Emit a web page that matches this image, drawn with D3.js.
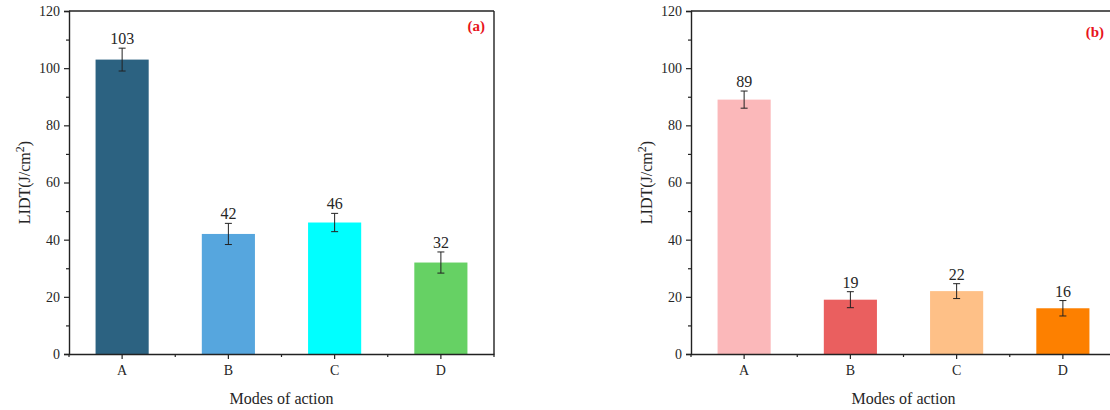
<!DOCTYPE html>
<html>
<head>
<meta charset="utf-8">
<script src="https://cdn.jsdelivr.net/npm/d3@7"></script>
<style>
  html, body { margin: 0; padding: 0; background: #fff; }
  svg { display: block; }
  svg text { font-family: "Liberation Serif", "Times New Roman", serif !important; }
</style>
</head>
<body>
<svg id="chart" width="1110" height="410"></svg>
<script>
// ---- data ----
const categories = ["A", "B", "C", "D"];
const valuesA = [103, 42, 46, 32];
const errorsA = [4, 3.7, 3.2, 3.7];
const valuesB = [89, 19, 22, 16];
const errorsB = [3, 2.8, 2.6, 2.7];
const colorsA = ["#2c6281", "#56a6de", "#00ffff", "#66d164"];
const colorsB = ["#fbb8ba", "#ea5f5f", "#fec087", "#fd8000"];
const yMajorTicks = [0, 20, 40, 60, 80, 100, 120];
const yMinorTicks = [10, 30, 50, 70, 90, 110];
const panelLabels = ["(a)", "(b)"];
const xTitle = "Modes of action";

const svg = d3.select("#chart");
const axisColor = "#222";
const textColor = "#262626";

function drawPanel(left, right, top, bottom, values, errors, colors, label, labelDx, labelY) {
  const g = svg.append("g");
  const x = d3.scaleBand().domain(categories).range([left, right]).padding(0);
  const y = d3.scaleLinear().domain([0, 120]).range([bottom, top]);
  const bw = x.bandwidth() * 0.5;

  // bars
  g.selectAll("rect.bar").data(values).enter().append("rect")
    .attr("class", "bar")
    .attr("x", (d, i) => x(categories[i]) + x.bandwidth() / 2 - bw / 2)
    .attr("y", d => y(d))
    .attr("width", bw)
    .attr("height", d => y(0) - y(d))
    .attr("fill", (d, i) => colors[i]);

  // error bars
  const cap = 3.5;
  values.forEach((v, i) => {
    const cx = x(categories[i]) + x.bandwidth() / 2;
    const e = errors[i];
    g.append("line").attr("x1", cx).attr("x2", cx).attr("y1", y(v + e)).attr("y2", y(v - e))
      .attr("stroke", axisColor).attr("stroke-width", 1);
    [v + e, v - e].forEach(t => {
      g.append("line").attr("x1", cx - cap).attr("x2", cx + cap).attr("y1", y(t)).attr("y2", y(t))
        .attr("stroke", axisColor).attr("stroke-width", 1);
    });
    g.append("text").attr("x", cx).attr("y", y(v + e) - 4)
      .attr("text-anchor", "middle").attr("font-size", 16).attr("fill", textColor)
      .text(v);
  });

  // frame top & right
  g.append("line").attr("x1", left).attr("x2", right).attr("y1", top).attr("y2", top)
    .attr("stroke", axisColor).attr("stroke-width", 1.4);
  g.append("line").attr("x1", right).attr("x2", right).attr("y1", top).attr("y2", bottom)
    .attr("stroke", axisColor).attr("stroke-width", 1.4);

  // y axis major
  const yAx = g.append("g").attr("transform", `translate(${left},0)`)
    .call(d3.axisLeft(y).tickValues(yMajorTicks).tickSize(5).tickPadding(4).tickFormat(d3.format("d")));
  yAx.attr("font-family", null).attr("font-size", null);
  yAx.select(".domain").attr("stroke", axisColor).attr("stroke-width", 1.4);
  yAx.selectAll(".tick line").attr("stroke", axisColor).attr("stroke-width", 1.2);
  yAx.selectAll(".tick text").attr("font-size", 14).attr("fill", textColor);
  // y minor
  const yMin = g.append("g").attr("transform", `translate(${left},0)`)
    .call(d3.axisLeft(y).tickValues(yMinorTicks).tickSize(3).tickFormat(""));
  yMin.select(".domain").remove();
  yMin.selectAll(".tick line").attr("stroke", axisColor).attr("stroke-width", 1.2);

  // x axis
  const xAx = g.append("g").attr("transform", `translate(0,${bottom})`)
    .call(d3.axisBottom(x).tickSize(5).tickPadding(6).tickSizeOuter(0));
  xAx.attr("font-family", null).attr("font-size", null);
  xAx.select(".domain").attr("stroke", axisColor).attr("stroke-width", 1.4);
  xAx.selectAll(".tick line").attr("stroke", axisColor).attr("stroke-width", 1.2);
  xAx.selectAll(".tick text").attr("font-size", 14).attr("fill", textColor);
  // x minor ticks at band edges
  const edges = categories.map(c => x(c)).concat([x(categories[categories.length - 1]) + x.bandwidth()]);
  g.selectAll("line.xminor").data(edges).enter().append("line")
    .attr("class", "xminor")
    .attr("x1", d => d).attr("x2", d => d).attr("y1", bottom).attr("y2", bottom + 3)
    .attr("stroke", axisColor).attr("stroke-width", 1.2);

  // axis titles
  g.append("text").attr("x", (left + right) / 2).attr("y", 404)
    .attr("text-anchor", "middle").attr("font-size", 16).attr("fill", textColor)
    .text(xTitle);
  const yt = g.append("text")
    .attr("transform", `translate(${left - 39},${(top + bottom) / 2}) rotate(-90)`)
    .attr("text-anchor", "middle").attr("font-size", 16).attr("fill", textColor);
  yt.append("tspan").text("LIDT(J/cm");
  yt.append("tspan").attr("dy", -6).attr("font-size", 12).text("2");
  yt.append("tspan").attr("dy", 6).text(")");

  // panel label
  g.append("text").attr("x", right - labelDx).attr("y", labelY)
    .attr("text-anchor", "end").attr("font-size", 15).attr("font-weight", "bold")
    .attr("fill", "#e8141b").text(label);
}

drawPanel(69, 494, 11, 354, valuesA, errorsA, colorsA, panelLabels[0], 9, 31);
drawPanel(691, 1116, 11, 354, valuesB, errorsB, colorsB, panelLabels[1], 12, 37);
</script>
</body>
</html>
